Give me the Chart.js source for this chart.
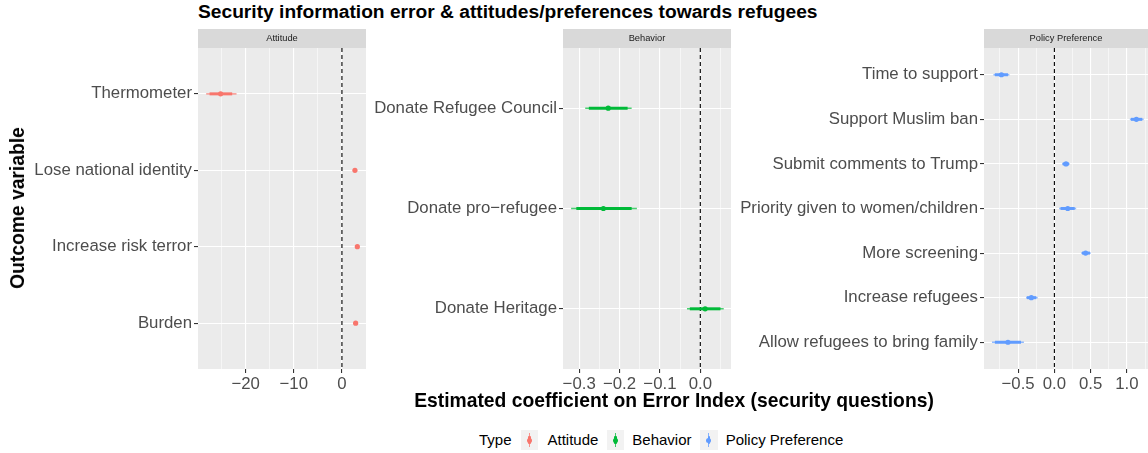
<!DOCTYPE html>
<html>
<head>
<meta charset="utf-8">
<script src="https://cdn.jsdelivr.net/npm/chart.js@4/dist/chart.umd.min.js"></script>
<style>
  html, body { margin: 0; padding: 0; background: #fff; }
  #wrap { position: relative; width: 1148px; height: 453px; overflow: hidden;
          font-family: "Liberation Sans", Arial, Helvetica, sans-serif; }
  canvas { position: absolute; }
  .title { position: absolute; left: 198px; top: 1px; font-weight: bold; font-size: 19.2px; color: #000; white-space: nowrap; }
  .xtitle { position: absolute; left: 674px; top: 390px; transform: translateX(-50%); font-weight: bold; font-size: 19.3px; color: #000; white-space: nowrap; }
  .ytitle { position: absolute; left: 18px; top: 208px; transform: translate(-50%, -50%) rotate(-90deg); font-weight: bold; font-size: 19.3px; color: #000; white-space: nowrap; }
  .lg { position: absolute; top: 430px; font-size: 15px; line-height: 20px; color: #000; white-space: nowrap; }
  .key { position: absolute; top: 430px; width: 17.6px; height: 20px; background: #F2F2F2; }
  .key .v { position: absolute; left: 8.1px; top: 3px; width: 1.4px; height: 14px; }
  .key .t { position: absolute; left: 7.6px; top: 6px; width: 2.4px; height: 8px; border-radius: 1px; }
  .key .d { position: absolute; left: 6.3px; top: 7.5px; width: 5px; height: 5px; border-radius: 50%; }
</style>
</head>
<body>
<div id="wrap">
  <div class="title">Security information error &amp; attitudes/preferences towards refugees</div>
  <canvas id="c1" width="372" height="370" style="left:0px;top:28px;width:372px;height:370px"></canvas>
  <canvas id="c2" width="364" height="370" style="left:370px;top:28px;width:364px;height:370px"></canvas>
  <canvas id="c3" width="414" height="370" style="left:734px;top:28px;width:414px;height:370px"></canvas>
  <div class="ytitle">Outcome variable</div>
  <div class="xtitle">Estimated coefficient on Error Index (security questions)</div>
  <span class="lg" style="left:479px">Type</span>
  <span class="key" style="left:520.7px"><span class="v" style="background:rgba(248,118,109,0.75)"></span><span class="t" style="background:#F8766D"></span><span class="d" style="background:#F8766D"></span></span>
  <span class="lg" style="left:547.5px">Attitude</span>
  <span class="key" style="left:606.7px"><span class="v" style="background:rgba(0,186,56,0.75)"></span><span class="t" style="background:#00BA38"></span><span class="d" style="background:#00BA38"></span></span>
  <span class="lg" style="left:632.3px">Behavior</span>
  <span class="key" style="left:700px"><span class="v" style="background:rgba(97,156,255,0.75)"></span><span class="t" style="background:#619CFF"></span><span class="d" style="background:#619CFF"></span></span>
  <span class="lg" style="left:725.7px">Policy Preference</span>
</div>
<script>
// ---- Attitude outcomes ----
const attitudeOutcomes = ["Thermometer", "Lose national identity", "Increase risk terror", "Burden"];
const attitudeEst      = [-25.2, 2.7, 3.2, 2.85];
const attitudeLo95     = [-28.2, 2.3, 2.8, 2.45];
const attitudeHi95     = [-21.9, 3.1, 3.6, 3.25];
const attitudeLo90     = [-27.5, 2.4, 2.9, 2.55];
const attitudeHi90     = [-22.8, 3.0, 3.5, 3.15];
const attitudeMajorTicks = [-20, -10, 0];
const attitudeMinorTicks = [-25, -15, -5, 5];
const attitudeTickLabels = ["\u221220", "\u221210", "0"];

// ---- Behavior outcomes ----
const behaviorOutcomes = ["Donate Refugee Council", "Donate pro\u2212refugee", "Donate Heritage"];
const behaviorEst      = [-0.228, -0.240, 0.012];
const behaviorLo95     = [-0.285, -0.320, -0.033];
const behaviorHi95     = [-0.170, -0.157, 0.058];
const behaviorLo90     = [-0.276, -0.307, -0.026];
const behaviorHi90     = [-0.180, -0.170, 0.050];
const behaviorMajorTicks = [-0.3, -0.2, -0.1, 0.0];
const behaviorMinorTicks = [-0.25, -0.15, -0.05, 0.05];
const behaviorTickLabels = ["\u22120.3", "\u22120.2", "\u22120.1", "0.0"];

// ---- Policy preference outcomes ----
const policyOutcomes = ["Time to support", "Support Muslim ban", "Submit comments to Trump",
  "Priority given to women/children", "More screening", "Increase refugees", "Allow refugees to bring family"];
const policyEst  = [-0.73, 1.13, 0.16, 0.184, 0.43, -0.318, -0.64];
const policyLo95 = [-0.84, 1.04, 0.106, 0.065, 0.37, -0.39, -0.86];
const policyHi95 = [-0.62, 1.23, 0.21, 0.30, 0.50, -0.23, -0.42];
const policyLo90 = [-0.82, 1.055, 0.115, 0.085, 0.38, -0.38, -0.82];
const policyHi90 = [-0.64, 1.21, 0.20, 0.28, 0.49, -0.25, -0.46];
const policyMajorTicks = [-0.5, 0.0, 0.5, 1.0];
const policyMinorTicks = [-0.75, -0.25, 0.25, 0.75, 1.25];
const policyTickLabels = ["\u22120.5", "0.0", "0.5", "1.0"];

const FONT = '"Liberation Sans", Arial, Helvetica, sans-serif';

function rgba(hex, a) {
  const n = parseInt(hex.slice(1), 16);
  return `rgba(${(n >> 16) & 255},${(n >> 8) & 255},${n & 255},${a})`;
}

// Grey panel, strip header above it
const panelPlugin = {
  id: 'panel',
  beforeDraw(chart, args, opts) {
    const { ctx, chartArea: a } = chart;
    ctx.save();
    ctx.fillStyle = '#EBEBEB';
    ctx.fillRect(a.left, a.top, a.right - a.left, a.bottom - a.top);
    ctx.fillStyle = '#D9D9D9';
    ctx.fillRect(a.left, a.top - 19, a.right - a.left, 19);
    ctx.fillStyle = '#1A1A1A';
    ctx.font = `9.3px ${FONT}`;
    ctx.textAlign = 'center';
    ctx.textBaseline = 'middle';
    ctx.fillText(opts.label, (a.left + a.right) / 2, a.top - 9.5);
    ctx.restore();
  }
};

function facet(id, strip, color, outcomes, est, lo95, hi95, lo90, hi90,
               xmin, xmax, major, minor, tickLabels, yWidth, padRight) {
  const n = outcomes.length;
  const datasets = [];
  // zero reference line
  datasets.push({
    type: 'line', data: [{ x: 0, y: 0.4 }, { x: 0, y: n + 0.6 }],
    borderColor: '#000', borderWidth: 1.1, borderDash: [4, 3],
    pointRadius: 0, order: 5
  });
  outcomes.forEach((name, i) => {
    datasets.push({
      type: 'line', data: [{ x: lo95[i], y: i + 1 }, { x: hi95[i], y: i + 1 }],
      borderColor: rgba(color, 0.7), borderWidth: 1.6, pointRadius: 0, order: 3
    });
    datasets.push({
      type: 'line', data: [{ x: lo90[i], y: i + 1 }, { x: hi90[i], y: i + 1 }],
      borderColor: color, borderWidth: 3, pointRadius: 0, order: 2
    });
  });
  datasets.push({
    type: 'scatter', data: est.map((v, i) => ({ x: v, y: i + 1 })),
    backgroundColor: color, borderColor: color, pointRadius: 2.6, borderWidth: 0, order: 1
  });

  const xTicks = major.concat(minor).sort((a, b) => a - b);
  const isMajor = v => major.some(m => Math.abs(m - v) < 1e-9);

  return new Chart(document.getElementById(id), {
    type: 'scatter',
    data: { datasets },
    options: {
      responsive: false, animation: false, devicePixelRatio: 1,
      layout: { padding: { left: 0, right: padRight, top: 20, bottom: 0 }, autoPadding: false },
      plugins: { legend: { display: false }, tooltip: { enabled: false }, panel: { label: strip } },
      scales: {
        x: {
          type: 'linear', min: xmin, max: xmax,
          afterBuildTicks: s => { s.ticks = xTicks.map(v => ({ value: v })); },
          afterFit: s => { s.height = 29; },
          border: { display: false },
          grid: {
            color: '#FFFFFF',
            lineWidth: c => (c.tick && isMajor(c.tick.value) ? 1.1 : 0.55),
            tickColor: c => (c.tick && isMajor(c.tick.value) ? '#333333' : 'rgba(0,0,0,0)'),
            tickLength: 4, tickWidth: 1.1
          },
          ticks: {
            autoSkip: false, maxRotation: 0, padding: 1,
            color: '#4D4D4D', font: { family: FONT, size: 16.8 },
            callback: v => { const k = major.findIndex(m => Math.abs(m - v) < 1e-9); return k >= 0 ? tickLabels[k] : ''; }
          }
        },
        y: {
          type: 'linear', reverse: true, min: 0.4, max: n + 0.6,
          afterBuildTicks: s => { s.ticks = outcomes.map((_, i) => ({ value: i + 1 })); },
          afterFit: s => { s.width = yWidth; },
          border: { display: false },
          grid: { color: '#FFFFFF', lineWidth: 1.1, tickColor: '#333333', tickLength: 4, tickWidth: 1.1 },
          ticks: {
            autoSkip: false, padding: 2,
            color: '#4D4D4D', font: { family: FONT, size: 16.8 },
            callback: v => outcomes[Math.round(v) - 1]
          }
        }
      }
    },
    plugins: [panelPlugin]
  });
}

facet('c1', 'Attitude', '#F8766D', attitudeOutcomes, attitudeEst, attitudeLo95, attitudeHi95,
      attitudeLo90, attitudeHi90, -29.9, 5.0, attitudeMajorTicks, attitudeMinorTicks, attitudeTickLabels, 198, 6);
facet('c2', 'Behavior', '#00BA38', behaviorOutcomes, behaviorEst, behaviorLo95, behaviorHi95,
      behaviorLo90, behaviorHi90, -0.340, 0.076, behaviorMajorTicks, behaviorMinorTicks, behaviorTickLabels, 193, 3);
facet('c3', 'Policy Preference', '#619CFF', policyOutcomes, policyEst, policyLo95, policyHi95,
      policyLo90, policyHi90, -0.97, 1.29, policyMajorTicks, policyMinorTicks, policyTickLabels, 250, 0);
</script>
</body>
</html>
